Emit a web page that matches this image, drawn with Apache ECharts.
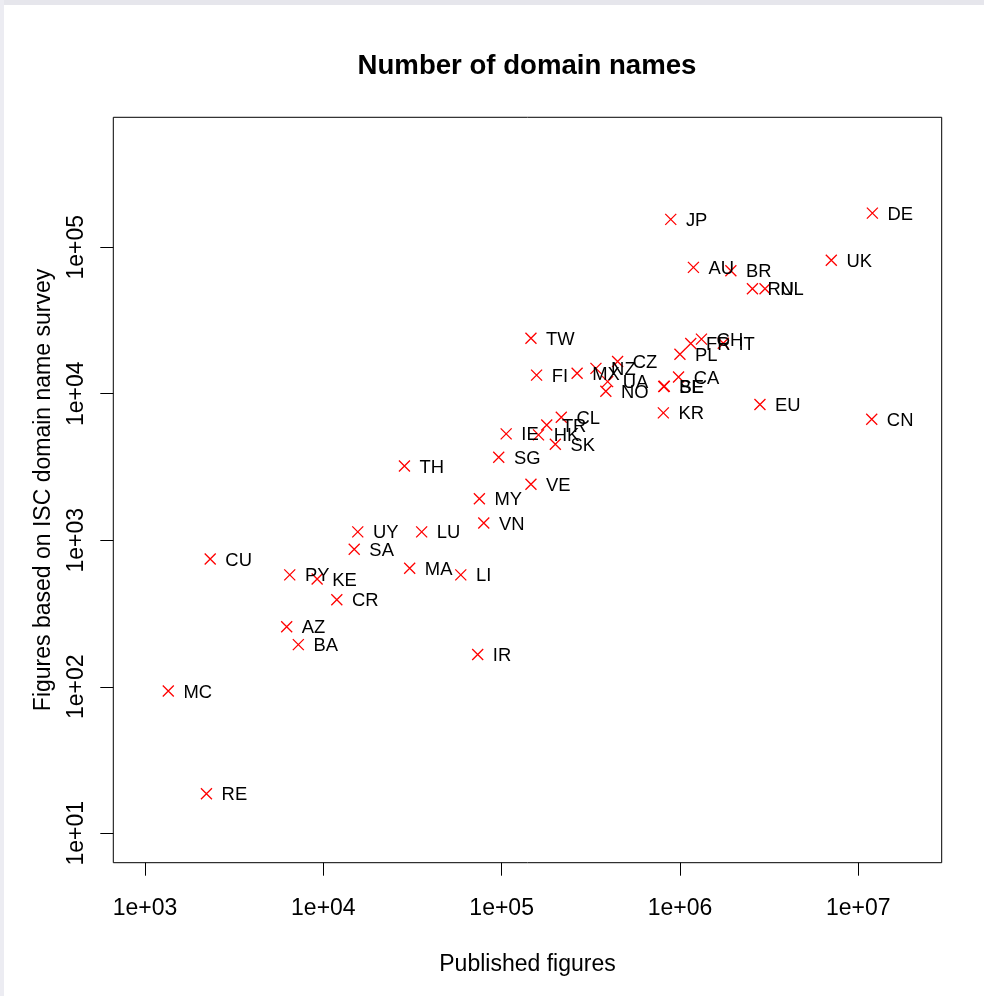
<!DOCTYPE html>
<html>
<head>
<meta charset="utf-8">
<script src="https://cdn.jsdelivr.net/npm/echarts@6/dist/echarts.min.js"></script>
<style>
  html, body { margin: 0; padding: 0; background: #ffffff; }
  #chart { width: 984px; height: 996px; }
</style>
</head>
<body>
<div id="chart"></div>
<script>
// ---- data ----
const countries = ['JP','DE','UK','AU','BR','RU','NL','TW','FR','CH','IT','PL','CZ','NZ','MX','FI','UA','NO','BE','SE','CA','KR','EU','CN','CL','TR','HK','SK','IE','SG','TH','VE','MY','VN','UY','LU','SA','CU','PY','KE','MA','LI','CR','AZ','BA','IR','MC','RE'];
const publishedFigures = [888000, 12000000, 7060000, 1190000, 1930000, 2550000, 3000000, 146000, 1150000, 1320000, 1750000, 1000000, 447000, 338000, 265000, 157000, 393000, 384000, 811000, 817000, 982000, 807000, 2810000, 11900000, 216000, 179000, 161000, 200000, 106000, 96300, 28500, 146000, 75000, 79400, 15600, 35600, 14900, 2320, 6480, 9230, 30500, 59000, 11900, 6230, 7240, 73400, 1350, 2210];
const iscSurvey = [155000, 171000, 81500, 72900, 69200, 52100, 52100, 23900, 22000, 23600, 22100, 18600, 16600, 14900, 13800, 13400, 12100, 10400, 11200, 11250, 13000, 7400, 8440, 6700, 6920, 6120, 5240, 4520, 5320, 3690, 3210, 2410, 1920, 1310, 1140, 1140, 869, 745, 580, 544, 644, 580, 392, 257, 194, 166, 93.5, 18.6];
const xTickValues = [1e3, 1e4, 1e5, 1e6, 1e7];
const xTickLabels = ['1e+03', '1e+04', '1e+05', '1e+06', '1e+07'];
const yTickValues = [1e1, 1e2, 1e3, 1e4, 1e5];
const yTickLabels = ['1e+01', '1e+02', '1e+03', '1e+04', '1e+05'];
const chartTitle = 'Number of domain names';
const xTitle = 'Published figures';
const yTitle = 'Figures based on ISC domain name survey';

// ---- chart ----
const points = countries.map((c, i) => ({ name: c, value: [publishedFigures[i], iscSurvey[i]] }));
function tickLabel(values, labels) {
  return function (v) {
    for (let i = 0; i < values.length; i++) {
      if (Math.abs(Math.log10(v) - Math.log10(values[i])) < 1e-6) return labels[i];
    }
    return '';
  };
}
const FONT = 'Liberation Sans, Arial, Helvetica, sans-serif';
const chart = echarts.init(document.getElementById('chart'), null, { renderer: 'canvas' });
chart.setOption({
  animation: false,
  backgroundColor: '#ffffff',
  title: {
    text: chartTitle,
    left: 522,
    top: 47,
    textAlign: 'center',
    textStyle: { fontFamily: FONT, fontSize: 27.6, fontWeight: 'bold', color: '#000' }
  },
  graphic: [
    { type: 'rect', left: 0, top: 0, shape: { width: 984, height: 5 }, style: { fill: '#e6e6ec' }, z: 100 },
    { type: 'rect', left: 0, top: 0, shape: { width: 4, height: 996 }, style: { fill: '#ececf2' }, z: 100 }
  ],
  grid: {
    left: 113.3, right: 42.3, top: 117.3, bottom: 133.3,
    show: true, borderColor: '#000', borderWidth: 1, backgroundColor: 'transparent'
  },
  xAxis: {
    type: 'log',
    logBase: 10,
    min: Math.pow(10, 2.822),
    max: Math.pow(10, 7.468),
    name: xTitle,
    nameLocation: 'middle',
    nameGap: 90,
    nameTextStyle: { fontFamily: FONT, fontSize: 23, color: '#000' },
    axisLine: { show: false },
    axisTick: { show: true, length: 13, inside: false, customValues: xTickValues, lineStyle: { color: '#000', width: 1 } },
    axisLabel: { show: true, margin: 34, customValues: xTickValues, formatter: tickLabel(xTickValues, xTickLabels),
      fontFamily: FONT, fontSize: 23, color: '#000' },
    splitLine: { show: false },
    minorTick: { show: false }
  },
  yAxis: {
    type: 'log',
    logBase: 10,
    min: Math.pow(10, 0.799),
    max: Math.pow(10, 5.887),
    name: yTitle,
    nameLocation: 'middle',
    nameRotate: 90,
    nameGap: 58,
    nameTextStyle: { fontFamily: FONT, fontSize: 23, color: '#000' },
    axisLine: { show: false },
    axisTick: { show: true, length: 13, inside: false, customValues: yTickValues, lineStyle: { color: '#000', width: 1 } },
    axisLabel: { show: true, margin: 25, rotate: 90, customValues: yTickValues, formatter: tickLabel(yTickValues, yTickLabels),
      fontFamily: FONT, fontSize: 23, color: '#000' },
    splitLine: { show: false },
    minorTick: { show: false }
  },
  series: [{
    type: 'scatter',
    data: points,
    symbol: 'path://M0,0L10,10M10,0L0,10',
    symbolSize: 11,
    itemStyle: { color: '#ff0000', borderColor: '#ff0000', borderWidth: 1.3, opacity: 1 },
    label: {
      show: true, position: 'right', distance: 9, offset: [0, 1.5], formatter: '{b}',
      fontFamily: FONT, fontSize: 18.4, color: '#000'
    },
    emphasis: { disabled: true }
  }]
});
</script>
</body>
</html>
